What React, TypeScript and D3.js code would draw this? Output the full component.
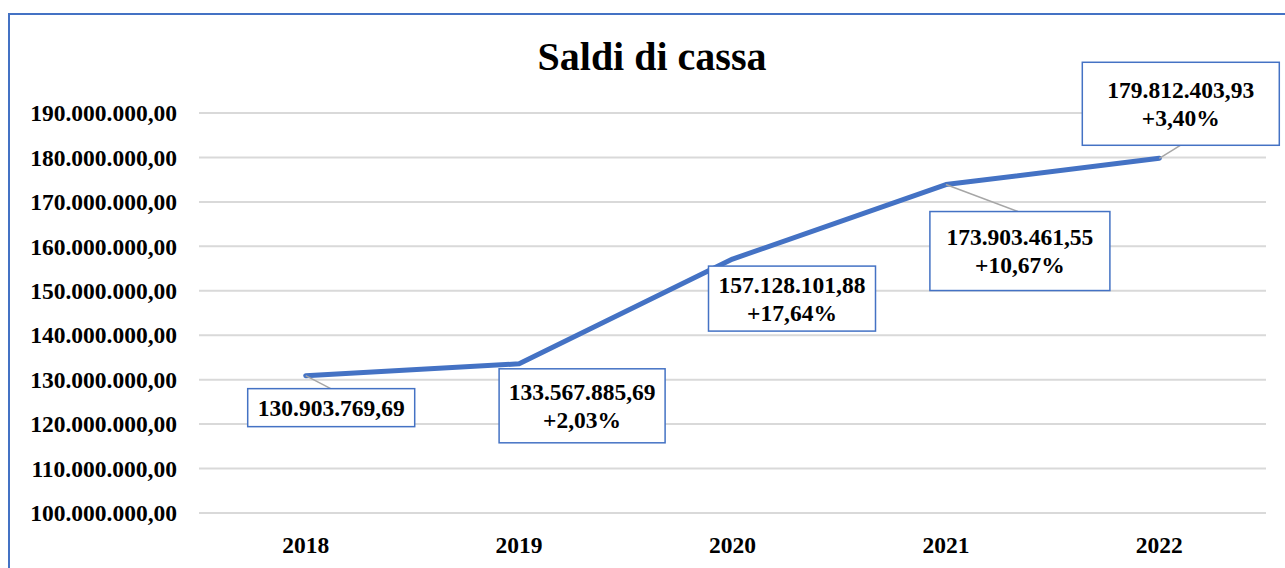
import React from "react";
import * as d3 from "d3";

const years = ["2018", "2019", "2020", "2021", "2022"];
const balances = [130903769.69, 133567885.69, 157128101.88, 173903461.55, 179812403.93];
const growth = ["", "+2,03%", "+17,64%", "+10,67%", "+3,40%"];
const yTicks = [100e6, 110e6, 120e6, 130e6, 140e6, 150e6, 160e6, 170e6, 180e6, 190e6];

// label box placement relative to each point (layout only)
const labelBoxes = [
  { dx: -58, dy: 13, w: 167, h: 38, leader: true, lead: 25 },
  { dx: -20, dy: 5, w: 166, h: 74, leader: false, lead: 0 },
  { dx: -24, dy: 7, w: 167, h: 65, leader: false, lead: 0 },
  { dx: -16, dy: 27, w: 180, h: 79, leader: true, lead: 72 },
  { dx: -77, dy: -96, w: 197, h: 83, leader: true, lead: 21 },
];

const it = d3.formatLocale({ decimal: ",", thousands: ".", grouping: [3], currency: ["€", ""] });
const fmt = it.format(",.2f");

const W = 1285;
const H = 568;
const blue = "#4472C4";
const font = "'Liberation Serif', 'Times New Roman', serif";
const fs = 23.5;

export default function App() {
  const x = d3.scaleBand().domain(years).range([199, 1266]);
  const y = d3.scaleLinear().domain([100e6, 190e6]).range([513, 113]);
  const cx = (d: string) => (x(d) ?? 0) + x.bandwidth() / 2;

  const line = d3
    .line<number>()
    .x((_, i) => cx(years[i]))
    .y((d) => y(d));

  return (
    <svg width={W} height={H} style={{ position: "absolute", left: 0, top: 0, background: "#fff" }}>
      <rect x={9} y={14} width={1300} height={600} fill="#fff" stroke={blue} strokeWidth={2} />
      <text x={652} y={70} textAnchor="middle" fontFamily={font} fontWeight="bold" fontSize={40} fill="#000">
        Saldi di cassa
      </text>

      {yTicks.map((t) => (
        <g key={t}>
          <line x1={199} x2={1266} y1={y(t)} y2={y(t)} stroke="#d9d9d9" strokeWidth={2} />
          <text x={177} y={y(t)} dy="0.35em" textAnchor="end" fontFamily={font} fontWeight="bold" fontSize={fs} fill="#000">
            {fmt(t)}
          </text>
        </g>
      ))}

      {years.map((yr) => (
        <text key={yr} x={cx(yr)} y={553} textAnchor="middle" fontFamily={font} fontWeight="bold" fontSize={fs} fill="#000">
          {yr}
        </text>
      ))}

      <path d={line(balances) ?? ""} fill="none" stroke={blue} strokeWidth={5} strokeLinejoin="round" strokeLinecap="round" />

      {balances.map((v, i) => {
        const px = cx(years[i]);
        const py = y(v);
        const b = labelBoxes[i];
        const bx = px + b.dx;
        const by = py + b.dy;
        const midX = bx + b.w / 2;
        const lines = growth[i] ? [fmt(v), growth[i]] : [fmt(v)];
        const lineH = 28;
        const top = by + b.h / 2 - ((lines.length - 1) * lineH) / 2;
        const ly = b.dy > 0 ? by : by + b.h;
        const lx = px + b.lead;
        return (
          <g key={years[i]}>
            {b.leader && <line x1={px} y1={py} x2={lx} y2={ly} stroke="#a6a6a6" strokeWidth={1.5} />}
            <rect x={bx} y={by} width={b.w} height={b.h} fill="#fff" stroke={blue} strokeWidth={1.5} />
            {lines.map((t, k) => (
              <text key={k} x={midX} y={top + k * lineH} dy="0.35em" textAnchor="middle" fontFamily={font} fontWeight="bold" fontSize={fs} fill="#000">
                {t}
              </text>
            ))}
          </g>
        );
      })}
    </svg>
  );
}
